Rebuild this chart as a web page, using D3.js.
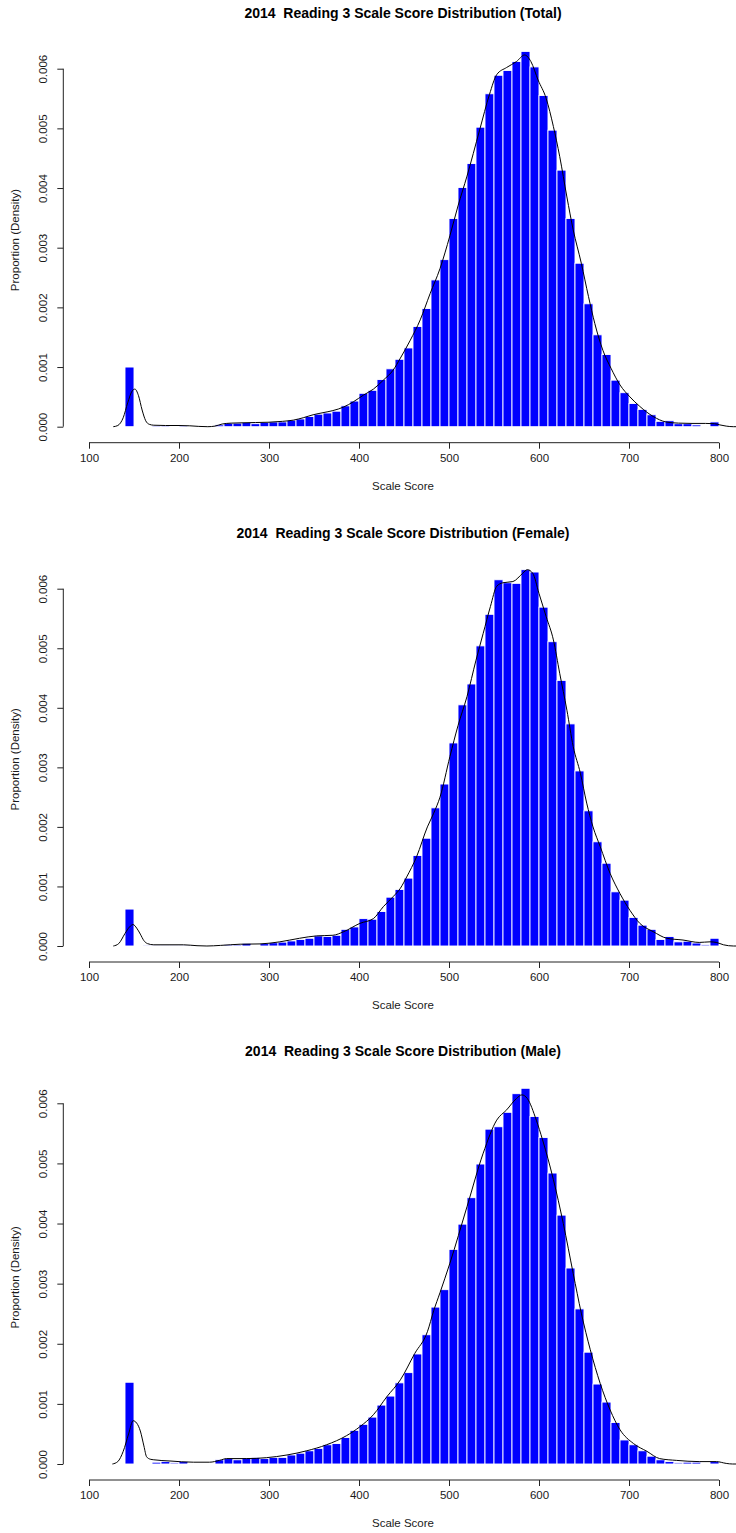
<!DOCTYPE html>
<html>
<head>
<meta charset="utf-8">
<script src="https://cdn.jsdelivr.net/npm/d3@7"></script>
<style>
  html, body { margin: 0; padding: 0; background: #ffffff; }
  svg { display: block; }
  text { font-family: "Liberation Sans", Arial, Helvetica, sans-serif; fill: #1a1a1a; }
  .ptitle { white-space: pre; }
</style>
</head>
<body>
<div id="chart"></div>
<script>
// ---------------- DATA ----------------
const panelTitles = [
  "2014  Reading 3 Scale Score Distribution (Total)",
  "2014  Reading 3 Scale Score Distribution (Female)",
  "2014  Reading 3 Scale Score Distribution (Male)"
];
const xAxisTitle = "Scale Score";
const yAxisTitle = "Proportion (Density)";

const binWidth = 10;
const binStarts = [140,150,160,170,180,190,200,210,220,230,240,250,260,270,280,290,
  300,310,320,330,340,350,360,370,380,390,400,410,420,430,440,450,460,470,480,490,
  500,510,520,530,540,550,560,570,580,590,600,610,620,630,640,650,660,670,680,690,
  700,710,720,730,740,750,760,770,780,790];

const densTotal = [0.00100,0,0.00001,0.00002,0.00002,0.000005,0.00002,0.00001,0,0,0.00003,0.00006,
  0.00006,0.00007,0.00005,0.00007,0.00008,0.00008,0.00011,0.00013,0.00017,0.00021,0.00023,0.00026,
  0.00035,0.00043,0.00056,0.00061,0.00079,0.00097,0.00113,0.00132,0.00168,0.00198,0.00246,0.00280,
  0.00349,0.00401,0.00441,0.00502,0.00558,0.00589,0.00597,0.00612,0.00629,0.00603,0.00555,0.00497,
  0.00430,0.00349,0.00274,0.00206,0.00154,0.00121,0.00078,0.00057,0.00039,0.00029,0.00020,0.00009,
  0.00010,0.00005,0.00005,0.00003,0.00001,0.00008];

const densFemale = [0.00062,0,0.000005,0.000005,0.000005,0.000005,0.000005,0.000005,0,0,0.00001,0.00002,
  0.00002,0.000045,0.00001,0.00004,0.000055,0.000065,0.000085,0.00011,0.00013,0.00017,0.00016,0.00018,
  0.00028,0.00032,0.00046,0.00045,0.00058,0.00082,0.00095,0.00114,0.00152,0.00181,0.00232,0.00272,
  0.00341,0.00405,0.00440,0.00504,0.00557,0.00615,0.00610,0.00609,0.00632,0.00628,0.00569,0.00511,
  0.00446,0.00373,0.00294,0.00227,0.00175,0.00139,0.00091,0.00077,0.00048,0.00035,0.00028,0.00011,
  0.00016,0.00007,0.00008,0.00005,0.00002,0.00013];

const densMale = [0.00136,0,0.00001,0.00003,0.00004,0.00002,0.00004,0.000015,0,0,0.00007,0.00009,
  0.00007,0.00010,0.00011,0.00009,0.00011,0.00011,0.00015,0.00018,0.00022,0.00026,0.00032,0.00034,
  0.00044,0.00056,0.00066,0.00078,0.00098,0.00113,0.00135,0.00152,0.00183,0.00215,0.00261,0.00290,
  0.00357,0.00399,0.00443,0.00499,0.00557,0.00561,0.00585,0.00616,0.00625,0.00578,0.00543,0.00484,
  0.00414,0.00326,0.00258,0.00186,0.00133,0.00103,0.00069,0.00040,0.00032,0.00022,0.00013,0.00007,
  0.00004,0.00002,0.00003,0.00003,0.00001,0.00004];

// density curves: [score, density]
const curveTotal = [[127,0],[132,0.00002],[138,0.00015],[143,0.00040],[148,0.00060],[151,0.00063],
  [155,0.00052],[159,0.00028],[163,0.00010],[167,0.00004],[172,0.000025],[185,0.00002],[200,0.00002],
  [212,0.000015],[222,0.000005],[232,0],[240,0.00001],[248,0.000045],[258,0.00006],[270,0.000065],
  [285,0.00007],[300,0.000075],[315,0.00009],[327,0.00011],[338,0.00015],[349,0.00020],[360,0.000235],
  [371,0.00027],[383,0.00033],[394,0.00042],[405,0.00053],[416,0.00063],[427,0.00078],[438,0.00095],
  [446,0.00115],[457,0.00145],[468,0.00179],[479,0.00223],[490,0.00265],[501,0.00320],[510,0.00370],
  [520,0.00420],[534,0.00497],[545,0.00557],[553,0.00590],[564,0.00602],[575,0.00612],[584,0.00623],
  [591,0.00612],[599,0.00581],[608,0.00550],[616,0.00503],[623,0.00453],[631,0.00385],[638,0.00330],
  [647,0.00274],[655,0.00218],[662,0.00173],[671,0.00128],[680,0.00098],[690,0.00070],[701,0.00050],
  [712,0.00034],[727,0.00017],[741,0.00008],[755,0.00006],[770,0.000055],[785,0.000055],[795,0.00005],
  [801,0.00003],[808,0.00001],[816,0],[824,0]];

const curveFemale = [[127,0],[133,0.00004],[140,0.00021],[145,0.00032],[149,0.00036],[153,0.00030],
  [157,0.00020],[161,0.00009],[165,0.00004],[172,0.00002],[190,0.00002],[205,0.00002],[220,0.000005],
  [231,0],[246,0.00001],[268,0.00003],[290,0.000035],[312,0.00007],[334,0.00013],[353,0.00017],
  [371,0.00018],[383,0.00024],[401,0.00038],[416,0.00046],[427,0.00066],[438,0.00083],[446,0.00097],
  [453,0.00116],[464,0.00150],[476,0.00200],[483,0.00223],[490,0.00250],[501,0.00318],[510,0.00370],
  [520,0.00419],[530,0.00480],[538,0.00525],[546,0.00570],[553,0.00604],[560,0.00610],[571,0.00612],
  [582,0.00626],[587,0.00632],[593,0.00626],[600,0.00592],[608,0.00553],[616,0.00514],[623,0.00458],
  [631,0.00396],[638,0.00335],[646,0.00290],[653,0.00240],[660,0.00200],[668,0.00167],[679,0.00122],
  [690,0.00088],[701,0.00060],[712,0.00038],[727,0.00024],[742,0.00013],[760,0.00010],[778,0.00006],
  [790,0.00007],[797,0.00006],[805,0.00002],[816,0],[824,0]];

const curveMale = [[126,0],[132,0.00004],[138,0.00021],[144,0.00050],[149,0.00072],[153,0.00068],
  [157,0.00055],[161,0.00030],[164,0.00012],[168,0.00008],[172,0.00007],[190,0.00005],[216,0.00003],
  [234,0.00003],[245,0.00006],[253,0.00009],[275,0.00009],[297,0.000105],[320,0.00015],[342,0.00022],
  [364,0.00032],[386,0.00047],[401,0.00062],[416,0.00082],[431,0.00112],[446,0.00140],[462,0.00184],
  [476,0.00220],[483,0.00255],[490,0.00285],[501,0.00334],[520,0.00428],[538,0.00517],[553,0.00572],
  [564,0.00589],[575,0.00608],[581,0.00614],[587,0.00608],[597,0.00572],[604,0.00539],[616,0.00473],
  [627,0.00400],[638,0.00317],[647,0.00251],[657,0.00190],[668,0.00134],[679,0.00090],[690,0.00057],
  [705,0.00034],[720,0.00021],[734,0.00009],[753,0.00006],[778,0.00004],[797,0.00004],[808,0.00001],
  [815,0],[824,0]];

const xTicks = [100,200,300,400,500,600,700,800];
const yTicks = [0,0.001,0.002,0.003,0.004,0.005,0.006];
const yTickLabels = ["0.000","0.001","0.002","0.003","0.004","0.005","0.006"];

// ---------------- LAYOUT ----------------
const W = 736, H = 1533;
const panels = [
  { title: panelTitles[0], dens: densTotal,  curve: curveTotal,  y0: 426.7, yTop: 68.7 },
  { title: panelTitles[1], dens: densFemale, curve: curveFemale, y0: 946.0, yTop: 588.7 },
  { title: panelTitles[2], dens: densMale,   curve: curveMale,   y0: 1464.0, yTop: 1103.3 }
];

const svg = d3.select("#chart").append("svg")
  .attr("width", W).attr("height", H)
  .attr("viewBox", `0 0 ${W} ${H}`);

const x = d3.scaleLinear().domain([100, 800]).range([89, 719]);
const axisX = 63.3;
const fs = 11.5;

panels.forEach(p => {
  const y = d3.scaleLinear().domain([0, 0.006]).range([p.y0, p.yTop]);
  const g = svg.append("g");

  // bars
  const bars = binStarts.map((s, i) => ({ s, d: p.dens[i] })).filter(b => b.d > 0);
  g.append("g").selectAll("rect").data(bars).join("rect")
    .attr("x", b => x(b.s))
    .attr("width", b => x(b.s + binWidth) - x(b.s))
    .attr("y", b => y(b.d))
    .attr("height", b => y(0) - y(b.d))
    .attr("fill", "#0000ff")
    .attr("stroke", "#ffffff")
    .attr("stroke-width", 0.9);

  // density curve
  const line = d3.line().x(d => x(d[0])).y(d => y(d[1])).curve(d3.curveMonotoneX);
  g.append("path").datum(p.curve)
    .attr("d", line)
    .attr("fill", "none")
    .attr("stroke", "#000000")
    .attr("stroke-width", 1);

  // x axis
  const xa = g.append("g").attr("transform", `translate(0,${p.y0 + 16})`)
    .call(d3.axisBottom(x).tickValues(xTicks).tickSize(6).tickSizeOuter(0).tickPadding(5));
  xa.select(".domain").attr("stroke", "#222").attr("d", `M${x(100)},0H${x(800)}`);
  xa.selectAll(".tick line").attr("stroke", "#222");
  xa.selectAll(".tick text").attr("font-size", fs).attr("fill", "#1a1a1a")
    .attr("font-family", '"Liberation Sans", Arial, sans-serif');

  // y axis
  const ya = g.append("g").attr("transform", `translate(${axisX},0)`)
    .call(d3.axisLeft(y).tickValues(yTicks).tickFormat((d, i) => yTickLabels[i]).tickSize(6).tickSizeOuter(0));
  ya.select(".domain").attr("stroke", "#222").attr("d", `M0,${y(0)}V${y(0.006)}`);
  ya.selectAll(".tick line").attr("stroke", "#222");
  ya.selectAll(".tick text")
    .attr("font-size", fs).attr("fill", "#1a1a1a")
    .attr("font-family", '"Liberation Sans", Arial, sans-serif')
    .attr("x", null).attr("dy", null)
    .attr("text-anchor", "middle")
    .attr("transform", `translate(${46.5 - axisX},0) rotate(-90)`);

  // titles
  g.append("text")
    .attr("class", "ptitle")
    .attr("xml:space", "preserve")
    .attr("x", 403).attr("y", p.y0 - 408.4)
    .attr("text-anchor", "middle")
    .attr("font-size", 14).attr("font-weight", "bold").style("fill", "#000")
    .text(p.title);

  g.append("text")
    .attr("x", 403).attr("y", p.y0 + 63.3)
    .attr("text-anchor", "middle")
    .attr("font-size", fs)
    .text(xAxisTitle);

  g.append("text")
    .attr("transform", `translate(18.5,${p.y0 - 186.7}) rotate(-90)`)
    .attr("text-anchor", "middle")
    .attr("font-size", fs)
    .text(yAxisTitle);
});
</script>
</body>
</html>
